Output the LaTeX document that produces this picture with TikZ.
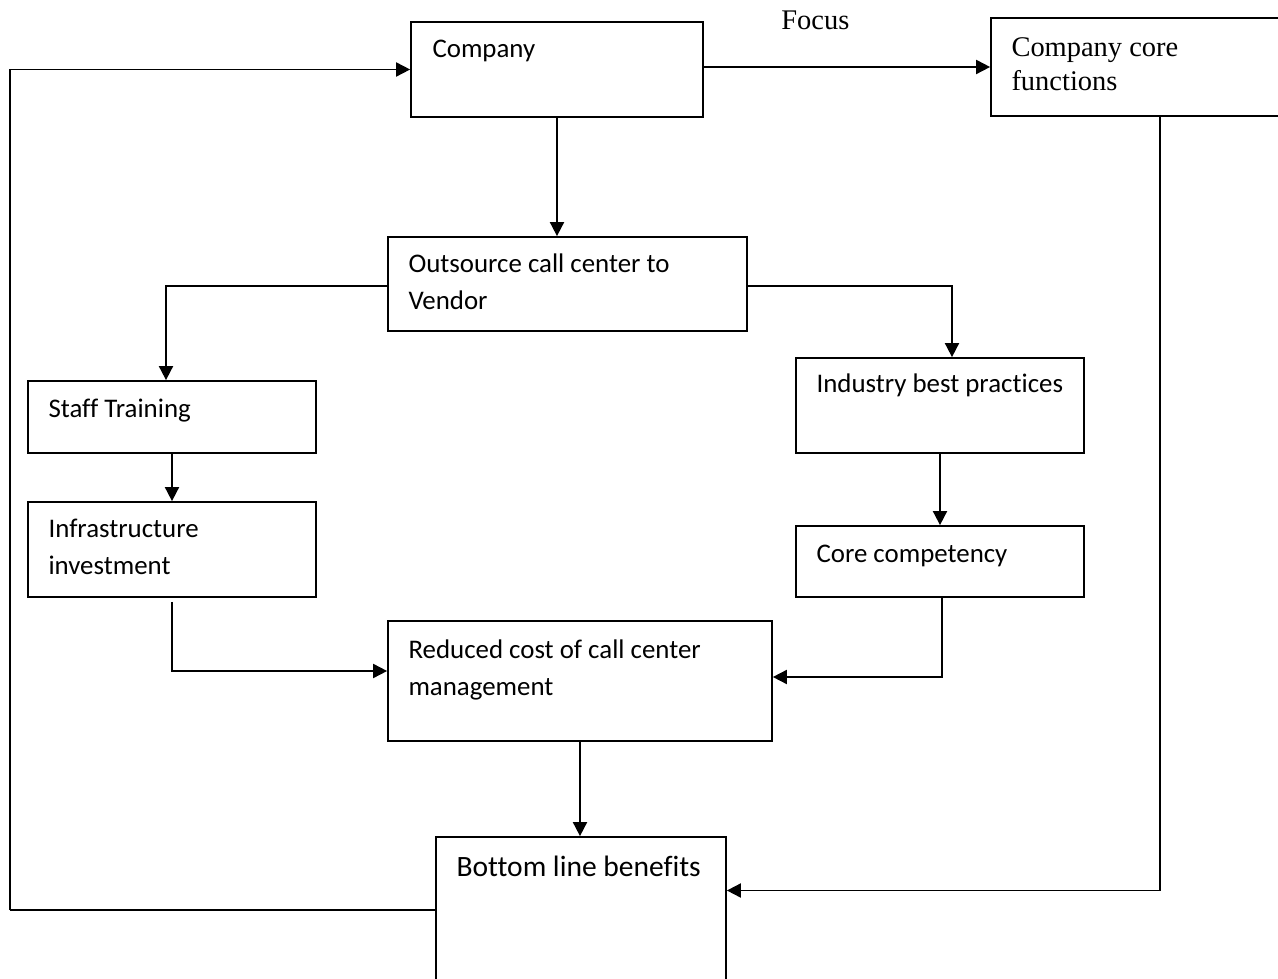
\documentclass[tikz,border=0pt]{standalone}
\usepackage{fontspec}
\setmainfont[Ligatures=NoCommon]{Carlito}
\newfontfamily\focusfont{Liberation Serif}
\usetikzlibrary{shapes,arrows,arrows.meta,positioning}

\tikzset{
  blk/.style={draw, rectangle, line width=1pt, inner sep=0pt},
  txt/.style={anchor=base west, inner sep=0pt, align=left, font=\fontsize{15.3}{21}\selectfont},
  bigtxt/.style={anchor=base west, inner sep=0pt, align=left, font=\fontsize{16.8}{22}\selectfont},
  srf/.style={anchor=base west, inner sep=0pt, align=left, font=\focusfont\fontsize{16.2}{19.3}\selectfont},
  conn/.style={line width=1pt, -{Triangle[length=8pt,width=8pt]}},
  plain/.style={line width=1pt}
}

\begin{document}
\begin{tikzpicture}[x=0.02cm, y=-0.02cm]
\useasboundingbox (0,0) rectangle (1278,979);

% top row
\node[blk, minimum width=5.84cm, minimum height=1.9cm] (company) at (557,69.5) {};
\node[txt] (companyt) at ([shift={(22,36)}]company.north west) {Company};
\node[blk, minimum width=5.98cm, minimum height=1.96cm] (corefn) at (1140.5,67) {};
\node[srf] (corefnt) at ([shift={(21,73)}]corefn.north west) {Company core\\functions};
\node[srf] (focus) at (781,30) {Focus};

% vendor (base anchor sits on the last line)
\node[blk, minimum width=7.18cm, minimum height=1.88cm] (vendor) at (567.5,284) {};
\node[txt] (vendort) at ([shift={(21,73)}]vendor.north west) {Outsource call center to\\Vendor};

% left branch
\node[blk, minimum width=5.76cm, minimum height=1.44cm] (staff) at (172,417) {};
\node[txt] (stafft) at ([shift={(21,37)}]staff.north west) {Staff Training};
\node[blk, minimum width=5.76cm, minimum height=1.9cm] (infra) at (172,549.5) {};
\node[txt] (infrat) at ([shift={(21,73)}]infra.north west) {Infrastructure\\investment};

% right branch
\node[blk, minimum width=5.76cm, minimum height=1.9cm] (practice) at (940,405.5) {};
\node[txt] (practicet) at ([shift={(21,35)}]practice.north west) {Industry best practices};
\node[blk, minimum width=5.76cm, minimum height=1.42cm] (compet) at (940,561.5) {};
\node[txt] (compett) at ([shift={(21,37)}]compet.north west) {Core competency};

% cost and benefits
\node[blk, minimum width=7.68cm, minimum height=2.4cm] (cost) at (580,681) {};
\node[txt] (costt) at ([shift={(21,75)}]cost.north west) {Reduced cost of call center\\management};
\node[blk, minimum width=5.8cm, minimum height=3.26cm] (benefit) at (581,918.5) {};
\node[bigtxt] (benefitt) at ([shift={(21,40)}]benefit.north west) {Bottom line benefits};

% connectors
\draw[conn] (company.east |- corefn.west) -- (corefn.west);
\draw[conn] (company.south) -- (company.south |- vendor.north);
\draw[conn] ([yshift=-0.04cm]vendor.west) -| ([xshift=-0.12cm]staff.north);
\draw[conn] ([yshift=-0.04cm]vendor.east) -| ([xshift=0.24cm]practice.north);
\draw[conn] (staff.south) -- (infra.north);
\draw[conn] (practice.south) -- (compet.north);
\draw[conn] ([yshift=-0.08cm]infra.south) |- ([yshift=0.2cm]cost.west);
\draw[conn] ([xshift=0.04cm]compet.south) |- ([yshift=0.08cm]cost.east);
\draw[conn] (cost.south) -- (cost.south |- benefit.north);
\draw[conn] ([xshift=0.39cm]corefn.south) |- ([yshift=0.56cm]benefit.east);

% feedback loop
\coordinate (loop) at (10,910);
\draw[plain] ([yshift=0.17cm]benefit.west) -- (loop);
\draw[conn] (loop) |- (company.west);
\end{tikzpicture}
\end{document}
